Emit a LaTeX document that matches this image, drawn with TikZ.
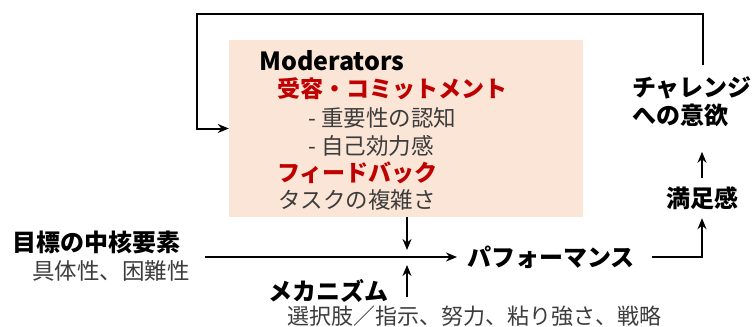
\documentclass[tikz,border=0pt]{standalone}
\usepackage{fontspec}
\setmainfont{Noto Sans CJK JP}
\usetikzlibrary{arrows.meta}
\definecolor{peach}{HTML}{FBE5D6}
\definecolor{myred}{HTML}{C00000}
\definecolor{mygray}{HTML}{3C3C3C}
\begin{document}
\begin{tikzpicture}[x=1pt,y=-1pt,
  txt/.style={inner sep=0pt, anchor=west, font=\fontsize{22.5}{28}\selectfont},
  hd/.style={inner sep=0pt, anchor=west, font=\fontsize{24}{28}\selectfont\bfseries, text=black},
  redhd/.style={hd, text=myred},
  sub/.style={txt, text=mygray},
  conn/.style={draw=black, line width=2pt, -{Stealth[length=11pt,width=9pt]}},
  panel/.style={fill=peach, draw=none, inner sep=0pt, minimum width=354pt, minimum height=177pt}]
\useasboundingbox (0,0) rectangle (756,327);

\node[panel] (box) at (406,128.5) {};

\node[hd, font=\fontsize{25}{28}\selectfont\bfseries] (mod) at (259,61) {Moderators};
\node[redhd, font=\fontsize{23}{28}\selectfont\bfseries] (acc) at (277,89) {受容・コミットメント};
\node[sub] (imp) at (308,118) {- 重要性の認知};
\node[sub] (eff) at (308,146) {- 自己効力感};
\node[redhd, font=\fontsize{23}{28}\selectfont\bfseries] (fb) at (277,173) {フィードバック};
\node[sub] (task) at (278,200) {タスクの複雑さ};

\node[hd] (goal) at (12,242) {目標の中核要素};
\node[sub] (goalsub) at (32,271) {具体性、困難性};
\node[hd] (perf) at (467,257) {パフォーマンス};
\node[hd] (mech) at (268,291) {メカニズム};
\node[sub, font=\fontsize{22}{28}\selectfont] (mechsub) at (287,316) {選択肢／指示、努力、粘り強さ、戦略};
\node[hd, anchor=center, minimum height=40pt] (sat) at (702,198) {満足感};
\node[hd, align=left] (chal) at (632,102) {チャレンジ\\への意欲};

\coordinate (gs) at (205,257);
\coordinate (mid) at (407,257);
\coordinate (ms) at (407,297);
\coordinate (pe) at (652,257);
\coordinate (fs) at (703,65);
\coordinate (fc) at (197,14);

\draw[conn] (gs) -- ([xshift=-10pt]perf.west);
\draw[conn] (box.south -| mid) -- ([yshift=7pt]mid);
\draw[conn] (ms) -- ([yshift=-8pt]mid);
\draw[conn] (pe) -| (sat.south);
\draw[conn] (sat.north) -- ([yshift=26pt]sat.north);
\draw[conn] (fs) |- (fc) |- (box.west);
\end{tikzpicture}
\end{document}
